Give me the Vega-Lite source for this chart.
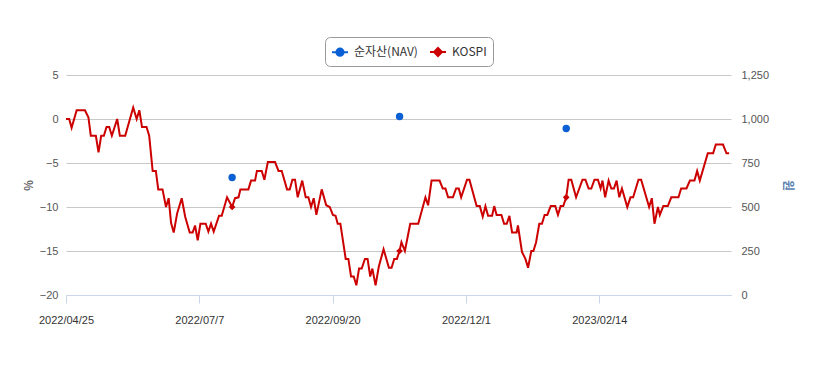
{
  "$schema": "https://vega.github.io/schema/vega-lite/v6.json",
  "autosize": {"type": "none"},
  "width": 665,
  "height": 220,
  "padding": {"left": 66, "top": 75, "right": 85, "bottom": 70},
  "background": "#ffffff",
  "config": {
    "view": {"stroke": null},
    "font": "Liberation Sans",
    "axis": {"labelFont": "Liberation Sans", "labelFontSize": 11, "labelColor": "#555555", "titleFont": "Noto Sans CJK KR"}
  },
  "datasets": {
    "kospi": [
      {"day": 0, "kospi": 0}, {"day": 1.2, "kospi": 0}, {"day": 2.1, "kospi": -1.0}, {"day": 4.0, "kospi": 1.0},
      {"day": 7.1, "kospi": 1.0}, {"day": 8.4, "kospi": 0.2}, {"day": 9.3, "kospi": -1.9}, {"day": 11.2, "kospi": -1.9},
      {"day": 12.2, "kospi": -3.8}, {"day": 13.2, "kospi": -1.9}, {"day": 14.2, "kospi": -1.9}, {"day": 15.2, "kospi": -0.9},
      {"day": 16.2, "kospi": -0.9}, {"day": 17.2, "kospi": -1.9}, {"day": 19.2, "kospi": 0}, {"day": 20.2, "kospi": -1.9},
      {"day": 22.2, "kospi": -1.9}, {"day": 25.2, "kospi": 1.3}, {"day": 26.5, "kospi": 0}, {"day": 27.5, "kospi": 1.0},
      {"day": 28.5, "kospi": -0.9}, {"day": 30.2, "kospi": -0.9}, {"day": 31.2, "kospi": -1.9}, {"day": 32.5, "kospi": -5.9},
      {"day": 33.7, "kospi": -5.9}, {"day": 34.6, "kospi": -8.0}, {"day": 36.2, "kospi": -8.0}, {"day": 37.5, "kospi": -10.0},
      {"day": 38.5, "kospi": -9.0}, {"day": 39.4, "kospi": -11.8}, {"day": 40.4, "kospi": -12.9}, {"day": 41.7, "kospi": -10.7},
      {"day": 43.4, "kospi": -9.0}, {"day": 44.7, "kospi": -11.1}, {"day": 46.4, "kospi": -12.9}, {"day": 47.5, "kospi": -12.9},
      {"day": 48.4, "kospi": -12.1}, {"day": 49.4, "kospi": -13.8}, {"day": 50.4, "kospi": -11.9}, {"day": 52.4, "kospi": -11.9},
      {"day": 53.4, "kospi": -12.8}, {"day": 54.4, "kospi": -11.9}, {"day": 55.4, "kospi": -12.8}, {"day": 57.4, "kospi": -11.0},
      {"day": 58.4, "kospi": -11.0}, {"day": 60.4, "kospi": -8.9}, {"day": 62.3, "kospi": -10.0}, {"day": 63.4, "kospi": -9.0},
      {"day": 64.7, "kospi": -8.9}, {"day": 65.4, "kospi": -8.0}, {"day": 68.4, "kospi": -8.0}, {"day": 69.4, "kospi": -7.0},
      {"day": 70.9, "kospi": -7.0}, {"day": 71.6, "kospi": -5.9}, {"day": 73.4, "kospi": -5.9}, {"day": 74.4, "kospi": -6.9},
      {"day": 75.7, "kospi": -4.9}, {"day": 78.4, "kospi": -4.9}, {"day": 79.7, "kospi": -5.9}, {"day": 80.9, "kospi": -5.9},
      {"day": 82.9, "kospi": -8.0}, {"day": 83.9, "kospi": -8.0}, {"day": 84.9, "kospi": -6.9}, {"day": 85.9, "kospi": -6.9},
      {"day": 86.9, "kospi": -8.9}, {"day": 88.6, "kospi": -7.0}, {"day": 89.9, "kospi": -8.9}, {"day": 90.9, "kospi": -8.9},
      {"day": 91.9, "kospi": -10.0}, {"day": 92.9, "kospi": -9.0}, {"day": 93.9, "kospi": -10.9}, {"day": 95.9, "kospi": -8.0},
      {"day": 97.6, "kospi": -9.8}, {"day": 98.9, "kospi": -10.0}, {"day": 100.1, "kospi": -10.9}, {"day": 101.1, "kospi": -11.0},
      {"day": 101.9, "kospi": -11.9}, {"day": 102.9, "kospi": -11.9}, {"day": 104.9, "kospi": -15.9}, {"day": 105.9, "kospi": -15.9},
      {"day": 106.9, "kospi": -17.9}, {"day": 107.9, "kospi": -17.9}, {"day": 108.9, "kospi": -18.9}, {"day": 109.9, "kospi": -17.0},
      {"day": 110.9, "kospi": -17.0}, {"day": 112.1, "kospi": -15.9}, {"day": 113.1, "kospi": -15.9}, {"day": 114.1, "kospi": -17.9},
      {"day": 114.9, "kospi": -17.0}, {"day": 116.1, "kospi": -18.9}, {"day": 117.3, "kospi": -16.8}, {"day": 119.1, "kospi": -14.8},
      {"day": 121.1, "kospi": -16.9}, {"day": 122.1, "kospi": -16.9}, {"day": 123.1, "kospi": -15.9}, {"day": 124.1, "kospi": -15.9},
      {"day": 125.1, "kospi": -15.0}, {"day": 125.8, "kospi": -14.0}, {"day": 127.1, "kospi": -15.0}, {"day": 129.1, "kospi": -11.9},
      {"day": 132.1, "kospi": -11.9}, {"day": 134.8, "kospi": -8.9}, {"day": 135.8, "kospi": -9.8}, {"day": 137.1, "kospi": -7.0},
      {"day": 140.1, "kospi": -7.0}, {"day": 141.3, "kospi": -7.9}, {"day": 142.3, "kospi": -7.9}, {"day": 143.3, "kospi": -8.9},
      {"day": 145.1, "kospi": -8.9}, {"day": 146.3, "kospi": -7.9}, {"day": 147.3, "kospi": -7.9}, {"day": 148.2, "kospi": -8.9},
      {"day": 150.4, "kospi": -6.9}, {"day": 151.3, "kospi": -6.9}, {"day": 154.0, "kospi": -9.9}, {"day": 155.2, "kospi": -9.9},
      {"day": 156.3, "kospi": -11.1}, {"day": 157.3, "kospi": -9.9}, {"day": 158.3, "kospi": -11.0}, {"day": 159.8, "kospi": -11.0},
      {"day": 160.6, "kospi": -9.9}, {"day": 161.5, "kospi": -10.9}, {"day": 163.3, "kospi": -10.9}, {"day": 164.3, "kospi": -11.9},
      {"day": 165.3, "kospi": -11.9}, {"day": 166.3, "kospi": -11.0}, {"day": 167.3, "kospi": -12.9}, {"day": 169.0, "kospi": -12.9},
      {"day": 169.5, "kospi": -12.1}, {"day": 171.0, "kospi": -15.1}, {"day": 172.3, "kospi": -15.9}, {"day": 173.3, "kospi": -16.9},
      {"day": 174.5, "kospi": -15.0}, {"day": 175.3, "kospi": -15.0}, {"day": 176.3, "kospi": -14.0}, {"day": 177.5, "kospi": -11.9},
      {"day": 178.5, "kospi": -11.9}, {"day": 179.5, "kospi": -10.9}, {"day": 180.5, "kospi": -10.9}, {"day": 181.8, "kospi": -9.9},
      {"day": 183.5, "kospi": -9.9}, {"day": 184.5, "kospi": -10.9}, {"day": 185.5, "kospi": -9.9}, {"day": 186.5, "kospi": -9.9},
      {"day": 187.6, "kospi": -8.9}, {"day": 188.5, "kospi": -6.9}, {"day": 189.5, "kospi": -6.9}, {"day": 191.3, "kospi": -8.9},
      {"day": 193.7, "kospi": -6.9}, {"day": 194.8, "kospi": -6.9}, {"day": 196.0, "kospi": -7.9}, {"day": 197.0, "kospi": -7.9},
      {"day": 198.2, "kospi": -6.9}, {"day": 199.5, "kospi": -6.9}, {"day": 200.5, "kospi": -7.9}, {"day": 201.2, "kospi": -7.0},
      {"day": 202.2, "kospi": -8.9}, {"day": 203.5, "kospi": -7.0}, {"day": 204.5, "kospi": -7.9}, {"day": 205.5, "kospi": -7.9},
      {"day": 206.5, "kospi": -7.0}, {"day": 207.5, "kospi": -8.9}, {"day": 208.5, "kospi": -7.9}, {"day": 210.5, "kospi": -10.0},
      {"day": 211.7, "kospi": -8.9}, {"day": 212.7, "kospi": -8.9}, {"day": 214.7, "kospi": -6.9}, {"day": 215.7, "kospi": -6.9},
      {"day": 218.7, "kospi": -10.0}, {"day": 219.7, "kospi": -9.0}, {"day": 220.7, "kospi": -11.9}, {"day": 222.0, "kospi": -10.0},
      {"day": 222.7, "kospi": -10.9}, {"day": 224.0, "kospi": -9.9}, {"day": 225.7, "kospi": -9.9}, {"day": 227.0, "kospi": -8.9},
      {"day": 229.7, "kospi": -8.9}, {"day": 230.7, "kospi": -7.9}, {"day": 232.7, "kospi": -7.9}, {"day": 234.0, "kospi": -7.0},
      {"day": 235.7, "kospi": -7.0}, {"day": 236.7, "kospi": -5.9}, {"day": 237.7, "kospi": -7.0}, {"day": 240.7, "kospi": -3.9},
      {"day": 242.7, "kospi": -3.9}, {"day": 243.7, "kospi": -2.9}, {"day": 246.4, "kospi": -2.9}, {"day": 247.7, "kospi": -3.9},
      {"day": 248.7, "kospi": -3.9}
    ],
    "marks": [
      {"day": 62.3, "kospi": -10.0, "nav": 668},
      {"day": 125.1, "kospi": -15.0, "nav": 1014},
      {"day": 187.6, "kospi": -8.9, "nav": 946}
    ]
  },
  "encoding": {
    "x": {
      "field": "day", "type": "quantitative",
      "scale": {"domain": [0, 249.4], "nice": false, "zero": false},
      "axis": {
        "title": null, "values": [0, 50, 100, 150, 200], "grid": false,
        "labelExpr": "datum.value == 0 ? '2022/04/25' : datum.value == 50 ? '2022/07/7' : datum.value == 100 ? '2022/09/20' : datum.value == 150 ? '2022/12/1' : '2023/02/14'",
        "domainColor": "#ccd6eb", "tickColor": "#ccd6eb", "tickSize": 8, "labelPadding": 11, "labelColor": "#333333",
        "labelFlush": false
      }
    }
  },
  "layer": [
    {
      "layer": [
        {
          "data": {"name": "kospi"},
          "mark": {"type": "line", "strokeWidth": 2, "interpolate": "linear"},
          "encoding": {
            "y": {
              "field": "kospi", "type": "quantitative",
              "scale": {"domain": [-20, 5], "nice": false, "zero": false},
              "axis": {
                "title": "%", "titleAngle": -90, "titleColor": "#666666", "titleFontSize": 11, "titleFontWeight": "bold",
                "titlePadding": 5, "values": [-20, -15, -10, -5, 0, 5], "domain": false, "ticks": false,
                "labelPadding": 8, "gridColor": "#c8c8c8", "gridWidth": 1
              }
            },
            "color": {
              "datum": "KOSPI",
              "scale": {"domain": ["순자산(NAV)", "KOSPI"], "range": ["#0a5fd5", "#cc0000"]},
              "legend": {
                "title": null, "orient": "none", "legendX": 259, "legendY": -38, "direction": "horizontal",
                "strokeColor": "#999999", "cornerRadius": 5, "fillColor": "#ffffff", "padding": 6,
                "symbolSize": 256, "labelFont": "Noto Sans CJK KR", "labelFontSize": 12, "labelColor": "#333333",
                "labelOffset": 5, "columnPadding": 8,
                "encode": {
                  "symbols": {
                    "update": {
                      "shape": {"signal": "datum.value == 'KOSPI' ? 'M-1,0H1M0,-0.5L0.5,0L0,0.5L-0.5,0Z' : 'M-1,0H1M-0.45,0A0.45,0.45,0,1,0,0.45,0A0.45,0.45,0,1,0,-0.45,0Z'"},
                      "fill": {"signal": "datum.value == 'KOSPI' ? '#cc0000' : '#0a5fd5'"},
                      "stroke": {"signal": "datum.value == 'KOSPI' ? '#cc0000' : '#0a5fd5'"},
                      "strokeWidth": {"value": 2},
                      "opacity": {"value": 1}
                    }
                  }
                }
              }
            }
          }
        },
        {
          "data": {"name": "marks"},
          "mark": {"type": "point", "shape": "diamond", "filled": true, "size": 45, "color": "#cc0000", "opacity": 1},
          "encoding": {
            "y": {"field": "kospi", "type": "quantitative"}
          }
        }
      ]
    },
    {
      "data": {"name": "marks"},
      "mark": {"type": "circle", "size": 55, "opacity": 1},
      "encoding": {
        "y": {
          "field": "nav", "type": "quantitative",
          "scale": {"domain": [0, 1250], "nice": false, "zero": false},
          "axis": {
            "orient": "right", "title": "원", "titleAngle": 90, "titleColor": "#5a7fb0", "titleFontSize": 12,
            "titlePadding": 12, "values": [0, 250, 500, 750, 1000, 1250], "format": ",.0f", "grid": false,
            "domain": false, "ticks": false, "labelPadding": 10
          }
        },
        "color": {"datum": "순자산(NAV)"}
      }
    }
  ],
  "resolve": {"scale": {"y": "independent"}}
}
